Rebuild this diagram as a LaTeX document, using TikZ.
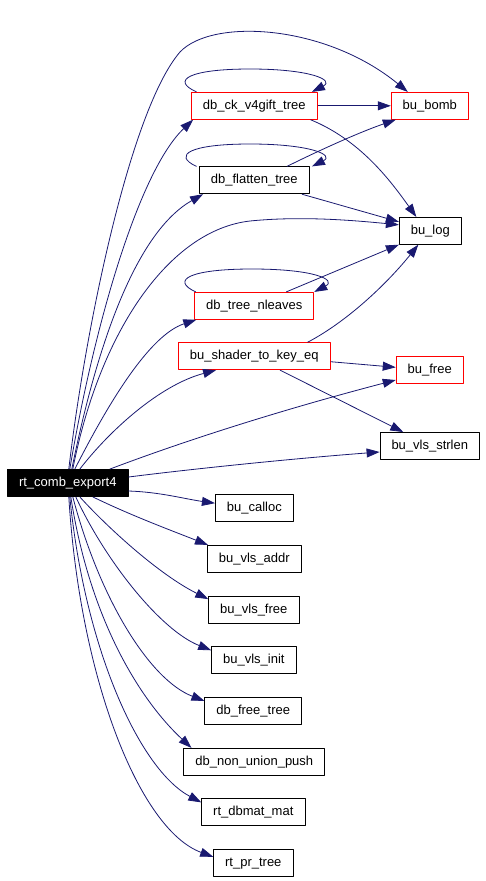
\documentclass[tikz,border=0pt]{standalone}
\usepackage{fontspec}
\setmainfont{Liberation Sans}
\usetikzlibrary{arrows.meta}
\definecolor{edgeblue}{RGB}{25,25,112}

\begin{document}
\begin{tikzpicture}[x=1pt,y=-1pt,join=round,
    fn/.style={draw=black,line width=0.8pt,inner xsep=11.5pt,inner ysep=0pt,minimum height=27pt,
      text height=9.4pt,text depth=2.8pt,font=\fontsize{13}{15}\selectfont},
    fnred/.style={fn,draw=red},
    call/.style={draw=edgeblue,line width=0.8pt,-{Triangle[length=13pt,width=9pt]}}] % Call graph of rt_comb_export4
         \useasboundingbox (0,0) rectangle (485,881);
         \node[fnred] (ck) at (254.3,105.8) {db\_ck\_v4gift\_tree};
         \node[fnred] (bomb) at (429.8,105.8) {bu\_bomb};
         \node[fn] (flat) at (254.3,180.3) {db\_flatten\_tree};
         \node[fn] (log) at (430.3,230.8) {bu\_log};
         \node[fnred] (nl) at (254.3,305.8) {db\_tree\_nleaves};
         \node[fnred] (shader) at (254.3,356.2) {bu\_shader\_to\_key\_eq};
         \node[fnred] (free) at (429.7,370) {bu\_free};
         \node[fn] (strlen) at (429.8,446) {bu\_vls\_strlen};
         \node[fn,fill=black,text=white] (rt) at (67.8,483) {rt\_comb\_export4};
         \node[fn] (calloc) at (254.3,508.2) {bu\_calloc};
         \node[fn] (addr) at (254.3,558.8) {bu\_vls\_addr};
         \node[fn] (vfree) at (253.8,610) {bu\_vls\_free};
         \node[fn] (init) at (253.8,660.3) {bu\_vls\_init};
         \node[fn] (ftree) at (253.2,710.8) {db\_free\_tree};
         \node[fn] (push) at (254.3,761.8) {db\_non\_union\_push};
         \node[fn] (dbmat) at (253.3,812.3) {rt\_dbmat\_mat};
         \node[fn] (pr) at (253.3,862.8) {rt\_pr\_tree};
         % calls out of rt_comb_export4
         \draw[call] ([xshift=1pt]rt.north) .. controls (85,330) and (130,110) .. (180,52)
                .. controls (212,18) and (325,24) .. ([xshift=-22pt]bomb.north);
         \draw[call] ([xshift=2pt]rt.north) .. controls (95,320) and (140,170) .. ([xshift=2pt]ck.south west);
         \draw[call] ([xshift=4pt]rt.north) .. controls (100,330) and (140,230) .. ([xshift=4pt]flat.south west);
         \draw[call] ([xshift=5pt]rt.north) .. controls (100,330) and (170,230) .. (250,221)
                .. controls (300,216) and (350,220) .. ([yshift=6pt]log.west);
         \draw[call] ([xshift=7pt]rt.north) .. controls (110,400) and (150,335) .. ([xshift=2pt]nl.south west);
         \draw[call] ([xshift=12pt]rt.north) .. controls (110,430) and (160,385) .. ([xshift=38pt]shader.south west);
         \draw[call] ([xshift=42pt]rt.north) .. controls (200,435) and (300,405) .. ([yshift=-10pt]free.west);
         \draw[call] ([yshift=6pt]rt.east) .. controls (200,468) and (300,458) .. ([yshift=-6pt]strlen.west);
         \draw[call] ([yshift=-8pt]rt.east) .. controls (160,492) and (185,499) .. ([yshift=5pt]calloc.west);
         \draw[call] ([xshift=25pt]rt.south) .. controls (130,515) and (170,530) .. ([xshift=1pt]addr.north west);
         \draw[call] ([xshift=12pt]rt.south) .. controls (110,530) and (160,575) .. ([yshift=-3pt]vfree.north west);
         \draw[call] ([xshift=8pt]rt.south) .. controls (105,560) and (160,630) .. ([yshift=10pt]init.west);
         \draw[call] ([xshift=5pt]rt.south) .. controls (100,600) and (150,680) .. ([yshift=-4pt]ftree.north west);
         \draw[call] ([xshift=3pt]rt.south) .. controls (90,620) and (140,700) .. ([xshift=8pt]push.north west);
         \draw[call] ([xshift=2pt]rt.south) .. controls (85,650) and (140,770) .. ([yshift=-4pt]dbmat.north west);
         \draw[call] ([xshift=1pt]rt.south) .. controls (80,680) and (140,830) .. ([yshift=6pt]pr.west);
         % recursive calls
         \draw[call] ([xshift=5.4pt]ck.north west) .. controls (170,80) and (190,69) .. (250,69)
                .. controls (310,69) and (335,80) .. ([xshift=-5.6pt]ck.north east);
         \draw[call] ([xshift=-2.6pt]flat.north west) .. controls (172,155) and (190,144) .. (250,144)
                .. controls (310,144) and (335,155) .. ([xshift=2.4pt]flat.north east);
         \draw[call] ([xshift=1.4pt]nl.north west) .. controls (170,280) and (190,269) .. (252,269)
                .. controls (315,269) and (337,280) .. (nl.north east);
         % other calls
         \draw[call] (ck) -- (bomb);
         \draw[call] ([xshift=-7pt]ck.south east) .. controls (360,140) and (390,180) .. ([xshift=-14pt]log.north);
         \draw[call] ([xshift=-22.6pt]flat.north east) .. controls (320,150) and (360,132) .. ([xshift=5pt]bomb.south west);
         \draw[call] ([xshift=-7.6pt]flat.south east) -- ([yshift=9pt]log.west);
         \draw[call] ([xshift=-28pt]nl.north east) -- (log.south west);
         \draw[call] ([xshift=-23pt]shader.north east) .. controls (350,320) and (390,280) .. ([xshift=-12pt]log.south);
         \draw[call] ([yshift=-5.5pt]shader.east) -- ([yshift=2.7pt]free.west);
         \draw[call] ([xshift=25.7pt]shader.south) -- ([xshift=-26.5pt]strlen.north);
      \end{tikzpicture}
\end{document}
